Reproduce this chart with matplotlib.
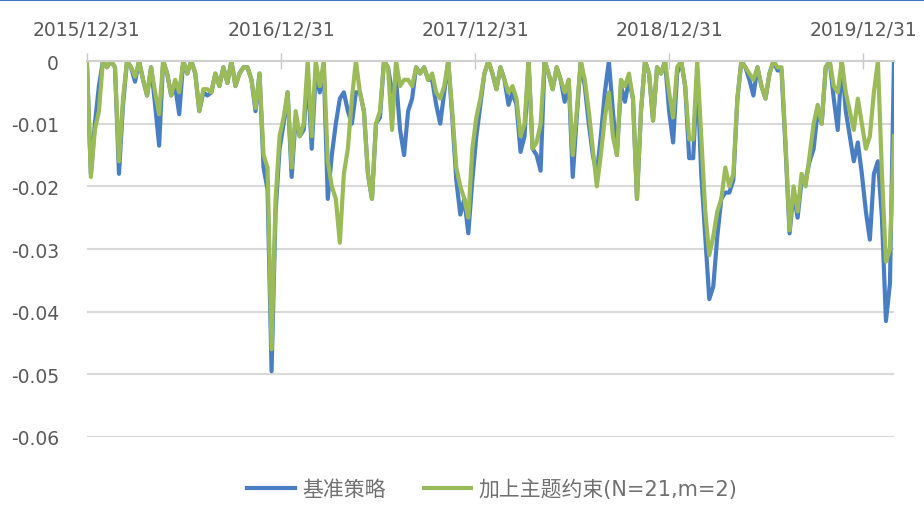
import numpy as np
import pandas as pd
import matplotlib
matplotlib.use("Agg")
import matplotlib.pyplot as plt
from matplotlib.lines import Line2D

plt.rcParams['font.family'] = ['DejaVu Sans', 'Noto Sans CJK SC']

# drawdown values, in units of 0.001
base_dd = np.array([
    0, -18, -10, -4, 0, -1, 0, -1, -18, -7,
    0, -1, -3.3, 0, -3, -5.5, -1, -7, -13.5, 0,
    -2, -5.5, -4, -8.5, 0, -2, 0, -2, -8, -5,
    -5.5, -5, -2, -4, -1, -3.5, 0, -4, -2, -1,
    -1, -3, -8, -2, -17, -20.5, -49.5, -24, -14, -10,
    -5, -18.5, -9, -12, -11, -2, -14, -2, -5, -1,
    -22, -15, -10, -6, -5, -8, -10, -5, -5, -8,
    -18, -22, -10, -9, 0, -1, -5, -3, -11, -15,
    -8, -6, -1, -2, -1, -3, -3, -7, -10, -5,
    0, -9, -19, -24.5, -22, -27.5, -19, -12, -7, -2,
    0, -2, -4.5, -1, -3, -7, -5, -7, -14.5, -12,
    0, -14, -15, -17.5, 0, -2, -4.5, -1, -3, -6.5,
    -3, -18.5, -9, 0, -4, -10, -15, -18, -12, -5,
    0, -8, -15, -4, -6.5, -3, -6, -22, -8, 0,
    -2, -9.5, -1, -2, 0, -8, -13, -2, 0, -4,
    -15.5, -15.5, -2, -18, -28, -38, -36, -28, -22, -21,
    -21, -19, -6, 0, -1, -3, -5.5, -1, -4, -6,
    -2, 0, -1.5, -1.5, -14, -27.5, -21, -25, -19, -19,
    -16, -14, -8, -10, -1, 0, -6, -11, 0, -8,
    -12, -16, -13, -18, -24, -28.5, -18, -16, -25, -41.5,
    -35.5, 0,
]) / 1000

theme_dd = np.array([
    0, -18.5, -11, -8, 0, -1, 0, -1, -16, -6,
    0, -1, -2.5, 0, -3, -5.5, -1, -5, -8.5, 0,
    -2, -5.5, -3, -5, 0, -2, 0, -2, -8, -4.5,
    -4.5, -5, -2, -4, -1, -3.5, 0, -4, -2, -1,
    -1, -3, -7.5, -2, -15, -17, -46, -22, -12, -9,
    -5, -17, -8, -12, -10, 0, -12, 0, -4, 0,
    -16, -20, -22, -29, -18, -14, -6, 0, -5, -8,
    -18, -22, -10, -8, 0, -1, -11, 0, -4, -3,
    -3, -4, -1, -2, -1, -3, -2, -5, -6, -4,
    0, -8, -17, -20, -22, -25, -14, -9, -6, -2,
    0, -2, -4.5, -1, -3, -5, -4, -6, -12, -10,
    0, -14, -13, -10, 0, -2, -4.5, -1, -3, -5,
    -3, -15, -8, 0, -3, -8, -14, -20, -15, -9,
    -5, -12, -15, -3, -4, -2, -6, -22, -8, 0,
    -2, -9.5, -1, -2, 0, -5, -9, -1, 0, -4,
    -12.5, -12.5, 0, -12, -24, -31, -28, -24, -22, -17,
    -20, -18, -6, 0, -1, -2, -3, -1, -4, -6,
    -2, 0, -1, -1, -13, -27, -20, -24, -18, -20,
    -15, -10, -7, -10, -1, 0, -4, -5, 0, -5,
    -8, -11, -6, -10, -14, -12, -5, 0, -18, -32,
    -30, -12,
]) / 1000

start_date = '2015-12-31'
end_date = '2020-02-27'
tick_dates = ['2015-12-31', '2016-12-31', '2017-12-31', '2018-12-31', '2019-12-31']
tick_labels = ['2015/12/31', '2016/12/31', '2017/12/31', '2018/12/31', '2019/12/31']
series_names = ['基准策略', '加上主题约束(N=21,m=2)']

dates = pd.date_range(start_date, end_date, periods=len(base_dd))

fig = plt.figure(figsize=(9.24, 5.10), dpi=100)
ax = fig.add_axes([0.094, 0.1412, 0.8735, 0.7372])

ax.plot(dates, base_dd, color='#4A7EC2', lw=3.0, solid_joinstyle='round', label=series_names[0])
ax.plot(dates, theme_dd, color='#9BBB59', lw=3.0, solid_joinstyle='round', label=series_names[1])

ax.set_xlim(pd.Timestamp(start_date), pd.Timestamp(end_date))
ax.set_ylim(-0.06, 0)
ax.set_yticks([0, -0.01, -0.02, -0.03, -0.04, -0.05, -0.06])
ax.set_yticklabels(['0', '-0.01', '-0.02', '-0.03', '-0.04', '-0.05', '-0.06'])
ax.set_xticks(pd.to_datetime(tick_dates))
ax.set_xticklabels(tick_labels)

ax.xaxis.tick_top()
ax.tick_params(axis='x', direction='inout', length=12, width=1, color='#c8c8c8',
               labelsize=13.5, labelcolor='#595959', pad=10)
ax.tick_params(axis='y', length=0, labelsize=13.5, labelcolor='#595959', pad=20)

ax.grid(axis='y', color='#d9d9d9', lw=1.5)
ax.set_axisbelow(True)
for side in ['left', 'right', 'bottom']:
    ax.spines[side].set_visible(False)
ax.spines['top'].set_color('#d0d0d0')
ax.spines['top'].set_linewidth(1.5)

leg = fig.legend(loc='center', bbox_to_anchor=(0.533, 0.04), ncol=2, frameon=False,
                 fontsize=15, labelcolor='#707070', handlelength=2.3,
                 handletextpad=0.35, columnspacing=1.8)
for h in leg.get_lines():
    h.set_linewidth(3.0)

fig.add_artist(Line2D([0, 1], [0.998, 0.998], color='#3F73C0', lw=1.5,
                      transform=fig.transFigure))

fig.savefig('out.png', dpi=100)
